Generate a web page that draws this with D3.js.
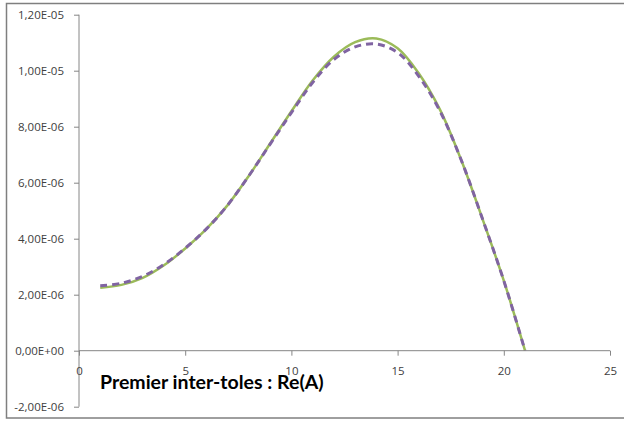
<!DOCTYPE html>
<html>
<head>
<meta charset="utf-8">
<script src="https://cdn.jsdelivr.net/npm/d3@7"></script>
<style>
  html, body { margin: 0; padding: 0; background: #fff; }
  svg { display: block; }
</style>
</head>
<body>
<svg id="chart" width="624" height="421"></svg>
<script>
const xValues = [1, 2, 3, 4, 5, 6, 7, 8, 9, 10, 11, 12, 13, 14, 15, 16, 17, 18, 19, 20, 21];
const seriesGreen = [2.25e-6, 2.35e-6, 2.6e-6, 3.05e-6, 3.65e-6, 4.35e-6, 5.2e-6, 6.25e-6, 7.4e-6, 8.55e-6, 9.65e-6, 10.5e-6, 11.02e-6, 11.15e-6, 10.8e-6, 9.9e-6, 8.6e-6, 6.8e-6, 4.7e-6, 2.5e-6, 0];
const seriesPurple = [2.32e-6, 2.41e-6, 2.66e-6, 3.08e-6, 3.66e-6, 4.35e-6, 5.2e-6, 6.25e-6, 7.38e-6, 8.5e-6, 9.58e-6, 10.4e-6, 10.85e-6, 10.95e-6, 10.65e-6, 9.8e-6, 8.55e-6, 6.8e-6, 4.7e-6, 2.5e-6, 0];
const xTicks = [0, 5, 10, 15, 20, 25];
const yTicks = [-2e-6, 0, 2e-6, 4e-6, 6e-6, 8e-6, 1e-5, 1.2e-5];
const yTickLabels = ["-2,00E-06", "0,00E+00", "2,00E-06", "4,00E-06", "6,00E-06", "8,00E-06", "1,00E-05", "1,20E-05"];
const title = "Premier inter-toles : Re(A)";

const svg = d3.select("#chart");

// outer chart border
svg.append("rect")
  .attr("x", 6.5).attr("y", 3.5)
  .attr("width", 640).attr("height", 414.5)
  .attr("fill", "#fff")
  .attr("stroke", "#7f7f7f")
  .attr("stroke-width", 1.5);

const x = d3.scaleLinear().domain([0, 25]).range([79, 610]);
const y = d3.scaleLinear().domain([-2e-6, 1.2e-5]).range([406.7, 14.7]);

const axisColor = "#868686";
const tickFont = "'Open Sans', Lato, sans-serif";
const titleFont = "Lato, 'Open Sans', sans-serif";

// y axis
const yAxis = svg.append("g")
  .attr("transform", `translate(${x(0)},0)`)
  .call(d3.axisLeft(y).tickValues(yTicks).tickSize(5).tickPadding(10)
    .tickFormat((d, i) => yTickLabels[i]));
yAxis.select(".domain").attr("stroke", axisColor).attr("d", `M0,${y(-2e-6)}V${y(1.2e-5)}`);
yAxis.selectAll(".tick line").attr("stroke", axisColor);
yAxis.selectAll(".tick text")
  .attr("fill", "#404040")
  .style("font-family", tickFont)
  .style("font-size", "11.5px");

// x axis at y=0
const xAxis = svg.append("g")
  .attr("transform", `translate(0,${y(0)})`)
  .call(d3.axisBottom(x).tickValues(xTicks).tickSize(5).tickPadding(11).tickFormat(d3.format("d")));
xAxis.select(".domain").attr("stroke", axisColor).attr("d", `M${x(0)},0H${x(25)}`);
xAxis.selectAll(".tick line").attr("stroke", axisColor);
xAxis.selectAll(".tick text")
  .attr("fill", "#404040")
  .style("font-family", tickFont)
  .style("font-size", "11.5px");

// series
const pts = (vals) => xValues.map((xv, i) => [xv, vals[i]]);
const line = d3.line()
  .x(d => x(d[0]))
  .y(d => y(d[1]))
  .curve(d3.curveCatmullRom.alpha(0.5));

svg.append("path")
  .datum(pts(seriesGreen))
  .attr("d", line)
  .attr("fill", "none")
  .attr("stroke", "#9BBB59")
  .attr("stroke-width", 2.5);

svg.append("path")
  .datum(pts(seriesPurple))
  .attr("d", line)
  .attr("fill", "none")
  .attr("stroke", "#8064A2")
  .attr("stroke-width", 3)
  .attr("stroke-dasharray", "7,5");

// title
svg.append("text")
  .attr("x", 100)
  .attr("y", 389)
  .attr("fill", "#000")
  .style("font-family", titleFont)
  .style("font-weight", "bold")
  .style("font-size", "19.5px")
  .text(title);
</script>
</body>
</html>
